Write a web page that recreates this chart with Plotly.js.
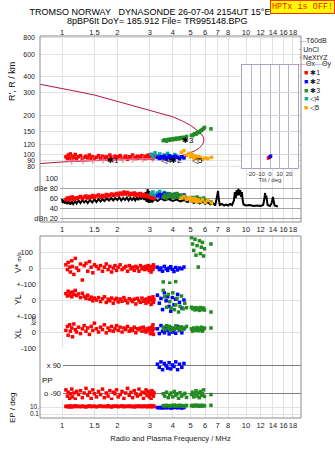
<!DOCTYPE html>
<html>
<head>
<meta charset="utf-8">
<script src="https://cdn.plot.ly/plotly-3.0.1.min.js"></script>
<style>
html,body{margin:0;padding:0;background:#fff;}
#chart{width:335px;height:451px;}
</style>
</head>
<body>
<div id="chart"></div>
<script>
// ---- tick labels ----
const freqTicks = [1, 1.5, 2, 3, 4, 5, 6, 7, 8, 10, 12, 14, 16, 18];
const freqTickText = ['1', '1.5', '2', '3', '4', '5', '6', '7', '8', '10', '12', '14', '16', '18'];
const heightTicks = [80, 90, 100, 120, 150, 200, 300, 400, 600, 800];
const dbTicks = [20, 40, 60, 80, 100];
const dbTickText = ['dBn 20', '40', '60', 'dBe 80', '100'];
const tiltTicks = [-20, -10, 0, 10, 20];

// ---- model profile trace (virtual height vs frequency) ----
const profFreq = [0.76, 0.9, 1.0, 1.25, 1.5, 1.75, 2.0, 2.5, 3.0, 3.5, 4.0, 4.5, 5.0, 5.4, 5.7, 5.88, 5.9, 5.82, 5.6, 5.3, 5.0, 4.6, 4.1, 3.5, 3.0, 2.5, 2.0, 1.5, 1.2, 1.0, 0.76];
const profHeight = [350, 335, 322, 305, 289, 272, 256, 236, 221, 208, 196, 182, 168, 155, 145, 136, 128, 120, 113, 107, 103, 99, 96, 94, 93, 92, 91, 89.5, 88.5, 87.5, 85];

// ---- NeXtYZ trace ----
const nxFreq = [1.13, 1.30, 1.47, 1.67, 1.89, 2.14, 2.43, 2.75, 3.12, 3.54, 3.86];
const nxHeight = [89, 89.5, 90, 90.5, 91, 91.5, 92, 92.5, 93, 93.5, 94];

// ---- echo class 1 (red) ----
const redFreq = [1.05, 1.07, 1.08, 1.10, 1.11, 1.13, 1.14, 1.16, 1.18, 1.20,
  1.23, 1.26, 1.29, 1.32, 1.35, 1.38, 1.41, 1.44, 1.47, 1.50,
  1.54, 1.58, 1.62, 1.66, 1.70, 1.74, 1.78, 1.82, 1.86, 1.90,
  1.94, 1.98, 2.02, 2.07, 2.12, 2.17, 2.22, 2.27, 2.32, 2.37,
  2.42, 2.47, 2.52, 2.57, 2.62, 2.67, 2.72, 2.77, 2.82, 2.86,
  2.90, 2.94, 2.98, 3.02, 3.05, 3.08, 3.10, 3.12, 3.14, 3.16];
const redHeight = [96, 93, 99, 94, 101, 92, 97, 95, 100, 93,
  96, 98, 92, 95, 97, 94, 99, 93, 96, 92,
  95, 98, 93, 97, 94, 96, 92, 99, 95, 93,
  97, 94, 96, 98, 93, 95, 97, 92, 96, 94,
  99, 95, 93, 97, 94, 96, 98, 95, 93, 97,
  95, 99, 94, 96, 100, 95, 97, 93, 98, 96];
const redAmp = [57, 60, 56, 59, 61, 58, 62, 57, 60, 59,
  61, 63, 59, 62, 64, 60, 63, 61, 65, 62,
  64, 66, 62, 65, 63, 67, 64, 66, 68, 65,
  67, 69, 66, 70, 67, 72, 68, 71, 66, 69,
  67, 70, 65, 68, 66, 69, 64, 67, 63, 66,
  64, 62, 65, 61, 63, 60, 64, 62, 59, 61];
const redVstar = [20, -10, 35, 5, -25, 45, 10, -40, 60, 0,
  -15, 25, -75, 15, 30, -20, 40, 5, -30, 20,
  10, -5, 15, -20, 5, 25, -10, 10, -25, 0,
  15, -15, 5, 20, -10, 0, 10, -20, 15, -5,
  5, -15, 10, 0, -20, 15, -5, 5, -10, 10,
  -5, 15, -15, 5, -25, 10, 0, -10, 20, 5];
const redYL = [40, 25, 55, 30, 45, 20, 50, 35, 60, 28,
  38, 15, 42, 22, 10, 30, 5, 18, -5, 12,
  0, 15, -10, 8, 20, -15, 5, -5, 12, -20,
  2, 10, -12, 6, -8, 15, -2, -18, 8, 0,
  -10, 5, -25, 10, -5, -15, 12, -8, 3, -20,
  6, -12, 15, 0, -28, 8, -6, 20, -15, 4];
const redXL = [10, 35, -20, 45, 5, 25, -30, 50, 15, 0,
  30, -10, 20, 40, 5, 25, -15, 35, 10, 55,
  20, 0, 30, 15, 45, -5, 25, 10, 35, 5,
  20, 40, 10, 30, 0, 25, 15, 35, 5, 20,
  10, 30, -5, 20, 15, 25, 5, 30, 10, 0,
  20, 10, 25, -10, 15, 30, 5, 45, -15, 20];
const redPP = [-70, -110, -85, -125, -95, -65, -115, -90, -130, -80,
  -100, -75, -120, -90, -60, -105, -85, -125, -70, -95,
  -115, -80, -100, -65, -120, -90, -110, -75, -130, -85,
  -95, -70, -115, -100, -80, -125, -90, -60, -105, -85,
  -120, -75, -95, -110, -65, -100, -85, -125, -90, -70,
  -105, -80, -115, -95, -130, -75, -100, -85, -110, -90];
const redEP = [15, 12, 18, 10, 20, 14, 11, 16, 22, 13,
  17, 12, 19, 14, 10, 16, 21, 13, 15, 18,
  11, 16, 20, 13, 17, 12, 24, 14, 10, 18,
  15, 19, 12, 16, 22, 11, 17, 14, 20, 13,
  16, 10, 18, 13, 21, 15, 12, 19, 14, 17,
  11, 16, 20, 13, 15, 25, 12, 18, 14, 16];

// ---- echo class 2 (blue) ----
const blueFreq = [3.30, 3.38, 3.45, 3.52, 3.60, 3.68, 3.75, 3.82, 3.90, 3.98, 4.06, 4.15, 4.25, 4.35, 4.48, 4.60];
const blueHeight = [95, 93, 96, 94, 97, 92, 95, 98, 93, 96, 94, 97, 95, 93, 96, 94];
const blueAmp = [64, 67, 62, 66, 69, 63, 65, 68, 62, 66, 64, 67, 63, 65, 62, 66];
const blueVstar = [5, -10, 0, -20, 10, -5, -15, 0, 8, -8, -22, 3, -12, 0, -5, 6];
const blueYL = [30, -20, 10, -60, 45, -5, 20, -40, -70, 15, -30, 5, 35, -15, -50, 0];
const blueXL = [20, -10, 40, 5, -5, 30, 10, -12, 25, 0, 15, -8, 35, 10, -5, 20];
const bluePP = [95, 75, 110, 60, 100, 85, 70, 105, 65, 90, 80, 110, 60, 95, 75, 100];
const blueEP = [7, 6, 8, 5, 9, 6, 7, 8, 5, 6, 9, 7, 6, 8, 5, 7];

// ---- echo class 3 (green) ----
const greenFreq = [3.55, 3.62, 3.70, 3.78, 3.85, 3.92, 4.00, 4.08, 4.15, 4.22, 4.30, 4.38, 4.46, 4.55, 4.65, 4.75,
  5.05, 5.12, 5.20, 5.28, 5.35, 5.42, 5.50, 5.58, 5.65, 5.72, 5.80, 5.88, 5.95, 6.45];
const greenHeight = [128, 130, 127, 131, 129, 132, 130, 133, 131, 134, 132, 135, 133, 136, 135, 138,
  141, 140, 143, 145, 144, 147, 149, 148, 152, 154, 156, 159, 162, 158];
const greenAmp = [62, 66, 60, 65, 68, 63, 67, 61, 65, 69, 62, 66, 64, 60, 63, 58,
  57, 61, 55, 60, 58, 62, 56, 59, 54, 58, 55, 60, 57, 52];
const greenVstar = [-87, -130, -150, -110, -95, -140, -160, -120, -85, -145, -170, -125, -135, -155, -115, -180,
  190, 150, 110, 180, 80, 140, 6, 170, 90, 130, 160, 75, 120, 150];
const greenYL = [60, 20, -45, 35, -10, -50, 45, -60, -30, 10, -75, -40, 25, -55, -20, -48,
  -45, -55, -50, -62, -48, -58, -52, -65, -47, -60, -55, -50, -63, -75];
const greenXL = [30, 15, 40, 20, 35, 10, 25, 18, 38, 22, 28, 12, 32, 20, 26, 35,
  20, 5, 25, 10, 15, 28, 8, 22, 12, 30, 5, 18, 25, 25];
const greenPP = [-95, -110, -85, -120, -100, -90, -115, -80, -105, -95, -125, -88, -110, -100, -92, -118,
  -100, -85, -115, -95, -75, -110, -90, -120, -80, -105, -95, -70, -112, -100];
const greenEP = [25, 18, 30, 22, 15, 28, 20, 35, 17, 26, 21, 32, 19, 24, 16, 28,
  22, 30, 18, 26, 34, 20, 28, 16, 24, 31, 19, 27, 22, 30];

// ---- echo class 4 (teal) ----
const tealFreq = [3.05, 3.12, 3.20, 3.30, 3.40, 3.50, 3.60, 3.75, 3.90, 4.10];
const tealHeight = [100, 96, 103, 98, 101, 95, 99, 102, 97, 100];
const tealAmp = [68, 72, 66, 70, 73, 67, 71, 69, 65, 68];

// ---- echo class 5 (orange) ----
const orangeFreq = [4.45, 4.60, 4.75, 4.90, 5.00, 5.10, 5.20, 5.30, 5.40, 5.50, 5.65, 5.80, 6.00, 6.20, 6.50];
const orangeHeight = [104, 107, 98, 102, 96, 100, 94, 97, 93, 96, 95, 92, 94, 93, 95];
const orangeAmp = [60, 63, 57, 61, 55, 59, 54, 58, 52, 56, 53, 57, 51, 55, 50];

// ---- unclassified amplitude / noise ----
const noiseFreq = [1.00, 1.01, 1.02, 1.04, 1.05, 1.07, 1.09, 1.11, 1.13, 1.15, 1.18, 1.20, 1.23, 1.26, 1.29, 1.32, 1.35, 1.38,
  1.42, 1.46, 1.50, 1.54, 1.58, 1.62, 1.66, 1.70, 1.75, 1.80, 1.85, 1.90, 1.95, 2.00, 2.05, 2.10, 2.15, 2.20,
  2.25, 2.30, 2.35, 2.40, 2.45, 2.50, 2.55, 2.60, 2.65, 2.70, 2.75, 2.80, 2.85, 2.88, 2.92, 2.95, 2.98, 3.02,
  3.06, 3.10, 3.20, 3.30, 3.45, 3.60, 3.80, 4.00, 4.20, 4.40, 4.60, 4.80, 5.00, 5.20, 5.40, 5.60, 5.80, 6.00,
  6.20, 6.40, 6.60, 6.80, 6.95, 7.00, 7.05, 7.10, 7.20, 7.40, 7.60, 7.80, 8.00, 8.20, 8.40, 8.60, 8.70, 8.80,
  8.90, 9.00, 9.10, 9.20, 9.30, 9.40, 9.50, 9.60, 9.70, 10.0, 10.5, 11.0, 11.5, 12.0, 12.4, 12.6, 12.7, 12.8,
  12.9, 13.1, 13.5, 13.8, 14.0, 14.1, 14.3, 14.6, 14.9];
const noiseDb = [58, 50, 56, 49, 55, 48, 54, 47, 53, 48, 54, 49, 55, 50, 56, 51, 55, 50,
  56, 51, 57, 52, 58, 53, 58, 54, 59, 55, 60, 55, 60, 56, 61, 55, 60, 56,
  61, 55, 60, 56, 60, 55, 61, 56, 62, 57, 66, 56, 72, 52, 78, 50, 74, 51,
  60, 53, 58, 54, 59, 55, 58, 54, 57, 53, 56, 52, 55, 50, 54, 49, 53, 48,
  52, 47, 50, 45, 62, 72, 74, 60, 46, 48, 45, 47, 45, 48, 46, 55, 72, 60,
  76, 65, 78, 66, 76, 62, 72, 55, 47, 45, 46, 44, 45, 44, 46, 60, 70, 58,
  64, 46, 44, 50, 62, 56, 45, 44, 43];

// ---- tilt inset ----
const redTilt = [-2, -1, -2, -1, 0];
const redTiltHeight = [93, 94, 95, 96, 97];
const blueTilt = [0, 1, 0, 1];
const blueTiltHeight = [95, 96, 97, 98];

// ---- colours ----
const C_RED = '#ff0000', C_BLUE = '#0000ff', C_GREEN = '#228b22', C_TEAL = '#00a8a8', C_ORANGE = '#ffa500';
const C_PROF = '#b4183e', C_PINK = '#f07090';
const GRID = '#e2e2e2', FRAME = '#8c8c8c';

// ---- plotting-area geometry (pixels) ----
const PL = 40, PR = 301, PT = 36, PB = 418;
const px = x => (x - PL) / (PR - PL);
const py = y => (PB - y) / (PB - PT);
const logf = x => (x - 62) / 184;   // frequency axis: 1 MHz at 62 px, 184 px per decade

function pts(x, y, color, xa, ya, size) {
  return {x: x, y: y, xaxis: xa, yaxis: ya, type: 'scatter', mode: 'markers', hoverinfo: 'skip',
    marker: {symbol: 'square', size: size || 3.5, color: color, line: {width: 0}}, cliponaxis: true};
}

const traces = [];
// height panel
traces.push({x: profFreq, y: profHeight, xaxis: 'x', yaxis: 'y', type: 'scatter', mode: 'lines',
  line: {color: C_PROF, width: 1}, hoverinfo: 'skip'});
traces.push(pts(redFreq, redHeight, C_RED, 'x', 'y'));
traces.push({x: nxFreq, y: nxHeight, xaxis: 'x', yaxis: 'y', type: 'scatter', mode: 'lines+markers',
  line: {color: C_PINK, width: 1}, marker: {symbol: 'cross-thin', size: 5, line: {color: C_PINK, width: 1}}, hoverinfo: 'skip'});
traces.push(pts(tealFreq, tealHeight, C_TEAL, 'x', 'y'));
traces.push(pts(orangeFreq, orangeHeight, C_ORANGE, 'x', 'y'));
traces.push(pts(blueFreq, blueHeight, C_BLUE, 'x', 'y'));
traces.push(pts(greenFreq, greenHeight, C_GREEN, 'x', 'y'));
// amplitude panel
traces.push({x: noiseFreq, y: noiseDb, xaxis: 'x4', yaxis: 'y2', type: 'scatter', mode: 'lines',
  line: {color: '#000', width: 2}, hoverinfo: 'skip'});
traces.push(pts(redFreq, redAmp, C_RED, 'x4', 'y2'));
traces.push(pts(tealFreq, tealAmp, C_TEAL, 'x4', 'y2'));
traces.push(pts(blueFreq, blueAmp, C_BLUE, 'x4', 'y2'));
traces.push(pts(greenFreq, greenAmp, C_GREEN, 'x4', 'y2'));
traces.push(pts(orangeFreq, orangeAmp, C_ORANGE, 'x4', 'y2'));
// lower panels
[[redFreq, redVstar, redYL, redXL, redPP, redEP, C_RED],
 [blueFreq, blueVstar, blueYL, blueXL, bluePP, blueEP, C_BLUE],
 [greenFreq, greenVstar, greenYL, greenXL, greenPP, greenEP, C_GREEN]].forEach(s => {
  traces.push(pts(s[0], s[1], s[6], 'x2', 'y3'));
  traces.push(pts(s[0], s[2], s[6], 'x2', 'y4'));
  traces.push(pts(s[0], s[3], s[6], 'x2', 'y5'));
  traces.push(pts(s[0], s[4], s[6], 'x6', 'y6'));
  traces.push(pts(s[0], s[5], s[6], 'x2', 'y7'));
});
// tilt inset
traces.push(pts(redTilt, redTiltHeight, C_RED, 'x3', 'y8', 2.5));
traces.push(pts(blueTilt, blueTiltHeight, C_BLUE, 'x3', 'y8', 2.5));

const TF = {size: 7.5, color: '#222'};
const base = {zeroline: false, showline: false, ticks: '', fixedrange: true, tickfont: TF, tickmode: 'array', tickangle: 0};
const XR = [logf(PL), logf(PR)];

const layout = {
  width: 335, height: 451,
  margin: {l: PL, r: 335 - PR, t: PT, b: 451 - PB, pad: 0},
  paper_bgcolor: '#fff', plot_bgcolor: '#fff',
  showlegend: false,
  font: {family: 'Liberation Sans, Arial, sans-serif', size: 8, color: '#222'},
  title: {text: 'TROMSO NORWAY\u00a0\u00a0\u00a0DYNASONDE 26-07-04 2154UT 15°E', x: 150 / 335, xanchor: 'center',
    xref: 'container', yref: 'container', y: 1 - 12 / 451, yanchor: 'middle', font: {size: 9, color: '#000'}},
  xaxis: Object.assign({}, base, {type: 'log', domain: [0, 1], range: XR, anchor: 'y', side: 'top',
    tickvals: freqTicks, ticktext: freqTickText, showgrid: true, gridcolor: GRID, ticklabelstandoff: -1}),
  yaxis: Object.assign({}, base, {type: 'log', domain: [py(177), 1], range: [1.8255, 2.9185], anchor: 'x',
    tickvals: heightTicks, ticktext: heightTicks.map(String), showgrid: true, gridcolor: GRID, ticklabelstandoff: 4,
    tickfont: {size: 7, color: '#222'}}),
  xaxis4: Object.assign({}, base, {type: 'log', domain: [px(60), 1], range: [logf(60), logf(PR)], anchor: 'y2', side: 'bottom',
    tickvals: freqTicks, ticktext: freqTickText, showgrid: true, gridcolor: GRID, ticklabelstandoff: 1}),
  yaxis2: Object.assign({}, base, {domain: [py(222), py(177)], range: [12, 102], anchor: 'x4',
    tickvals: dbTicks, ticktext: dbTickText, showgrid: true, gridcolor: '#a4a4a4', ticklabelstandoff: 1}),
  xaxis2: Object.assign({}, base, {type: 'log', domain: [0, 1], range: XR, anchor: 'y7', side: 'bottom',
    tickvals: freqTicks, ticktext: freqTickText, showgrid: true, gridcolor: GRID, ticklabelstandoff: 1,
    title: {text: 'Radio and Plasma Frequency / MHz', font: {size: 7.5, color: '#222'}, standoff: 7}}),
  yaxis3: Object.assign({}, base, {domain: [py(284), py(236)], range: [-100, 200], anchor: 'x2',
    tickvals: [0, 100], ticktext: ['0', '100'], showgrid: true, gridcolor: GRID, ticklabelstandoff: 6}),
  yaxis4: Object.assign({}, base, {domain: [py(316), py(284)], range: [-100, 100], anchor: 'x2',
    tickvals: [0, 100], ticktext: ['0', '+-100'], showgrid: true, gridcolor: GRID, ticklabelstandoff: 3}),
  yaxis5: Object.assign({}, base, {domain: [py(348), py(316)], range: [-100, 100], anchor: 'x2',
    tickvals: [-100, 0, 100], ticktext: ['-100', '0', '+-100'], showgrid: true, gridcolor: GRID, ticklabelstandoff: 3}),
  xaxis6: Object.assign({}, base, {type: 'log', domain: [px(63), 1], range: [logf(63), logf(PR)], anchor: 'y6',
    showticklabels: false, tickvals: freqTicks, showgrid: true, gridcolor: GRID}),
  yaxis6: Object.assign({}, base, {domain: [py(400), py(348)], range: [-135, 199.3], anchor: 'x6',
    tickvals: [-90, 90], ticktext: ['o -90', 'x 90'], showgrid: true, gridcolor: '#7c7c7c', ticklabelstandoff: 1}),
  yaxis7: Object.assign({}, base, {type: 'log', domain: [0, py(400)], range: [-2.143, 3], anchor: 'x2',
    tickvals: [0.1, 10], ticktext: ['0.1', '10.'], showgrid: true, gridcolor: GRID, ticklabelstandoff: 0,
    tickfont: {size: 6.5, color: '#222'}}),
  xaxis3: Object.assign({}, base, {domain: [px(242), px(298)], range: [-29.5, 29.5], anchor: 'y8',
    tickvals: tiltTicks, ticktext: tiltTicks.map(String), tickfont: {size: 6, color: '#333'}, ticklabelstandoff: 0,
    showgrid: true, gridcolor: '#b4b4cc', showline: true, mirror: true, linecolor: '#a4a4c4', linewidth: 1,
    title: {text: 'Tilt / deg', font: {size: 6, color: '#333'}, standoff: 0}}),
  yaxis8: Object.assign({}, base, {type: 'log', domain: [py(168), py(65)], range: [1.8952, 2.6937], anchor: 'x3',
    tickvals: [100, 150, 200, 300], showticklabels: false, showgrid: true, gridcolor: '#d6d6e6',
    showline: true, mirror: true, linecolor: '#a4a4c4', linewidth: 1}),
  shapes: [
    {type: 'rect', xref: 'paper', yref: 'paper', x0: 0, x1: 1, y0: py(222), y1: 1, line: {color: FRAME, width: 1}},
    {type: 'rect', xref: 'paper', yref: 'paper', x0: 0, x1: 1, y0: 0, y1: py(236), line: {color: FRAME, width: 1}}
  ],
  annotations: []
};

const A = layout.annotations;
function note(text, x, y, opts) {
  A.push(Object.assign({text: text, xref: 'paper', yref: 'paper', x: px(x), y: py(y), showarrow: false,
    xanchor: 'center', yanchor: 'middle', font: {size: 8, color: '#222'}}, opts || {}));
}
// header
note('8pBP6It DoY= 185.912 File= TR995148.BPG', 157, 21, {font: {size: 9, color: '#000'}});
note('HPTx is OFF!', 302.5, 7, {bgcolor: '#ffff00', bordercolor: '#ff3000', borderwidth: 1, borderpad: 1,
  font: {family: 'Liberation Mono, DejaVu Sans Mono, monospace', size: 8.5, color: '#ff0000'}});
// side labels
note("R', R / km", 12, 82, {textangle: -90, font: {size: 9, color: '#111'}});
note('V* <span style="font-size:6px">m/s</span>', 18, 263, {textangle: -90, font: {size: 8.5, color: '#111'}});
note('YL', 18, 300, {textangle: -90, font: {size: 8.5, color: '#111'}});
note('km', 33, 321, {textangle: -90, font: {size: 6.5, color: '#111'}});
note('XL', 18, 334, {textangle: -90, font: {size: 8.5, color: '#111'}});
note('PP', 47, 380, {font: {size: 8, color: '#111'}});
note('EP / deg', 12, 408, {textangle: -90, font: {size: 8, color: '#111'}});
// legend
const legendRows = [
  [41, '<span style="color:#a0a0a0">—</span>T60dB'],
  [49, '<span style="color:#000">·</span> UnCl'],
  [57, '<span style="color:' + C_PINK + '">+</span>NeXtYZ'],
  [64, '<span style="color:' + C_PINK + '">—</span>Θx<span style="color:#8080ff">—</span>Θy'],
  [73, '<span style="color:' + C_RED + '">■</span> ✱1'],
  [81, '<span style="color:' + C_BLUE + '">■</span> ✱2'],
  [90, '<span style="color:' + C_GREEN + '">■</span> ✱3'],
  [98, '<span style="color:' + C_TEAL + '">■</span> ◁4'],
  [107, '<span style="color:' + C_ORANGE + '">■</span> ◁5']
];
legendRows.forEach((r, i) => note(r[1], i < 4 ? 297 : 302, r[0], {xanchor: 'left', font: {size: 7, color: '#222'}}));
// echo trace labels
[['✱1', 1.9, 90.6], ['◁4', 3.72, 90.6], ['✱2', 4.16, 90.6], ['◁5', 5.42, 90.6], ['✱3', 4.84, 129.5]].forEach(l => {
  A.push({text: l[0], xref: 'x', yref: 'y', x: Math.log10(l[1]), y: Math.log10(l[2]), showarrow: false,
    xanchor: 'center', yanchor: 'middle', font: {size: 8, color: '#000'}});
});

Plotly.newPlot('chart', traces, layout, {staticPlot: true, displayModeBar: false});
</script>
</body>
</html>
